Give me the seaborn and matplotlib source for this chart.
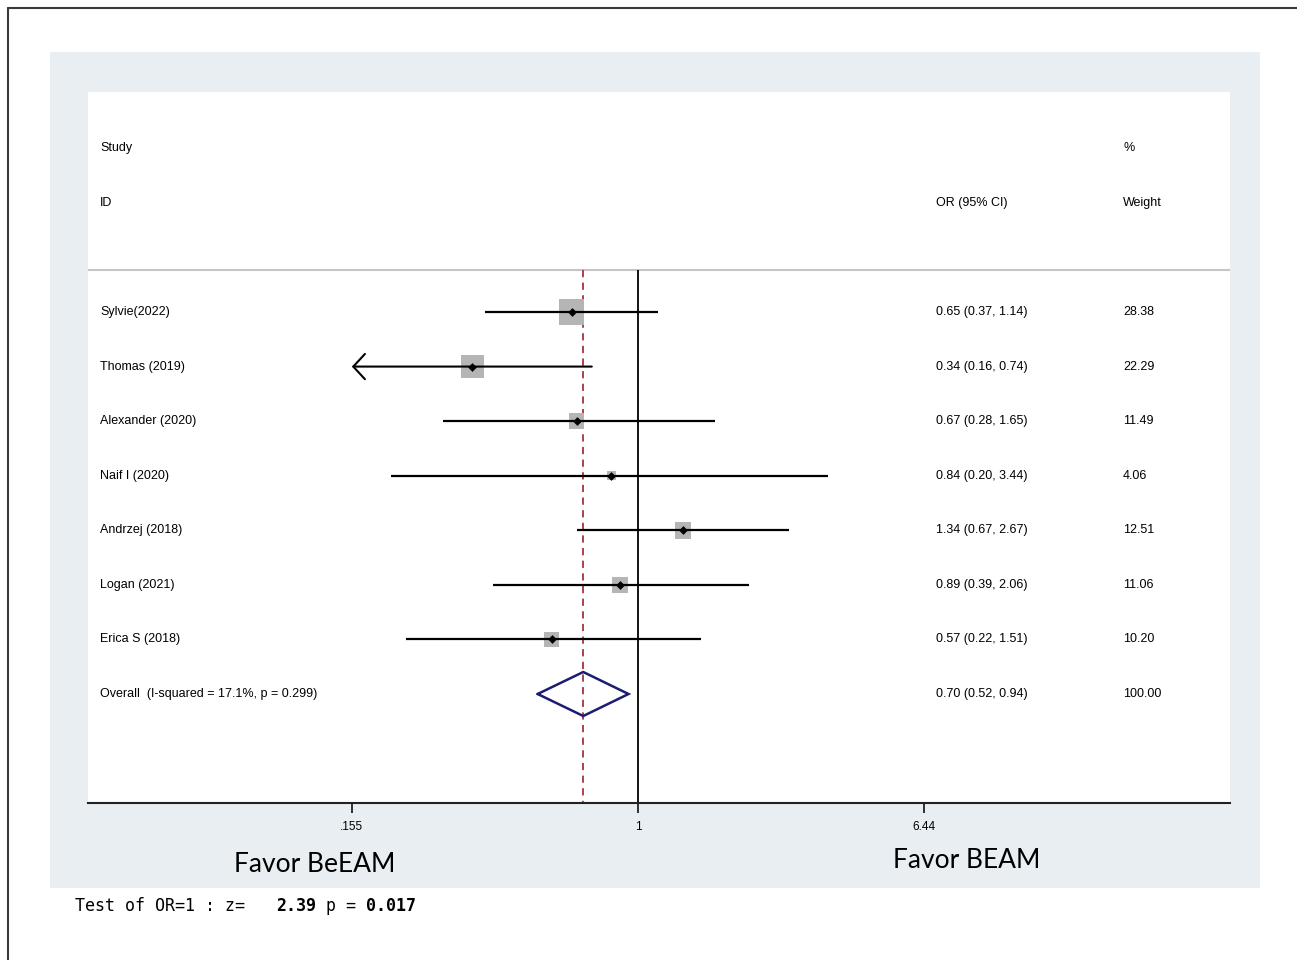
import numpy as np
import pandas as pd
import matplotlib
matplotlib.use("Agg")
import matplotlib.pyplot as plt
import seaborn as sns
from matplotlib.patches import Rectangle
from matplotlib.lines import Line2D
from matplotlib.ticker import NullLocator

# ---------------- data ----------------
studies = ["Sylvie(2022)", "Thomas (2019)", "Alexander (2020)", "Naif I (2020)",
           "Andrzej (2018)", "Logan (2021)", "Erica S (2018)"]
or_est = [0.65, 0.34, 0.67, 0.84, 1.34, 0.89, 0.57]
ci_lo = [0.37, 0.16, 0.28, 0.20, 0.67, 0.39, 0.22]
ci_hi = [1.14, 0.74, 1.65, 3.44, 2.67, 2.06, 1.51]
weights = [28.38, 22.29, 11.49, 4.06, 12.51, 11.06, 10.20]
overall_label = "Overall  (I-squared = 17.1%, p = 0.299)"
overall_est = 0.70
overall_lo = 0.52
overall_hi = 0.94
overall_weight = 100.00
tick_values = [0.155, 1, 6.44]
tick_labels = [".155", "1", "6.44"]
left_label = "Favor BeEAM"
right_label = "Favor BEAM"
test_z = "2.39"
test_p = "0.017"

# ---------------- figure ----------------
sns.set_theme(style="white")
plt.rcParams['font.family'] = ['Liberation Sans', 'DejaVu Sans']
plt.rcParams['text.color'] = 'black'
plt.rcParams['xtick.color'] = 'black'

W, H = 1297, 960
fig = plt.figure(figsize=(W / 100, H / 100), dpi=100)
fig.patch.set_facecolor("white")

def fx(px):
    return px / W

def fy(py):
    return 1 - py / H

# light blue-grey graph region
fig.patches.append(Rectangle((fx(50), fy(888)), (1260 - 50) / W, (888 - 52) / H,
                             transform=fig.transFigure, facecolor="#e8eef1",
                             edgecolor="none", zorder=-5))
# thin frame (top and left)
fig.lines.append(Line2D([fx(8), fx(1297)], [fy(8), fy(8)], transform=fig.transFigure,
                        color="#3a3a3a", lw=1.5, zorder=-5))
fig.lines.append(Line2D([fx(8), fx(8)], [fy(8), fy(960)], transform=fig.transFigure,
                        color="#3a3a3a", lw=1.5, zorder=-5))

ax = fig.add_axes([fx(88), fy(803), (1230 - 88) / W, (803 - 92) / H])
ax.set_facecolor("white")
ax.set_xscale("log")

ppl = 153.48  # pixels per ln unit
xmin = np.exp((88 - 638) / ppl)
xmax = np.exp((1230 - 638) / ppl)
ax.set_xlim(xmin, xmax)
row_h = (694 - 312) / 7
ax.set_ylim((803 - 312) / row_h, (92 - 312) / row_h)

n = len(studies)
rows = np.arange(n)
top_line = (270 - 312) / row_h

# separator and reference lines
ax.axhline(top_line, color="#c4c4c4", lw=1.5, zorder=1)
ax.vlines(1, top_line, (803 - 312) / row_h, color="black", lw=1.3, zorder=2)
ax.vlines(overall_est, top_line, (803 - 312) / row_h, color="#a3343f", lw=1.3,
          linestyles=(0, (4, 3)), zorder=2)

# squares via seaborn (area proportional to weight)
df = pd.DataFrame({"study": studies, "est": or_est, "lo": ci_lo, "hi": ci_hi,
                   "w": weights, "row": rows})
k = 11.42
sns.scatterplot(data=df, x="est", y="row", size="w",
                sizes=(k * min(weights), k * max(weights)),
                marker="s", color="#b5b5b5", linewidth=0, legend=False, ax=ax, zorder=3)

# CI lines
amin = tick_values[0]
for r, lo, hi in zip(rows, ci_lo, ci_hi):
    if lo < amin * 1.05 and r == 1:
        ax.annotate("", xy=(amin, r), xytext=(hi, r),
                    arrowprops=dict(arrowstyle="->,head_length=0.6,head_width=0.65",
                                    lw=1.5, color="black", shrinkA=0, shrinkB=0,
                                    mutation_scale=14), zorder=4)
    else:
        ax.hlines(r, lo, hi, color="black", lw=1.6, zorder=4)

sns.scatterplot(data=df, x="est", y="row", marker="D", color="black", s=20,
                linewidth=0, legend=False, ax=ax, zorder=5)

# overall diamond
orow = n
dh = 22 / row_h
ax.plot([overall_lo, overall_est, overall_hi, overall_est, overall_lo],
        [orow, orow - dh, orow, orow + dh, orow], color="#1c1c70", lw=1.8,
        zorder=5, solid_joinstyle="miter")

# text columns
fs = 9
tx_study = (100 - 88) / (1230 - 88)
tx_or = (936 - 88) / (1230 - 88)
tx_w = (1123 - 88) / (1230 - 88)
trans = ax.get_yaxis_transform()
ax.text(tx_study, -3, "Study", transform=trans, fontsize=fs, va="center", ha="left")
ax.text(tx_study, -2, "ID", transform=trans, fontsize=fs, va="center", ha="left")
ax.text(tx_or, -2, "OR (95% CI)", transform=trans, fontsize=fs, va="center", ha="left")
ax.text(tx_w, -3, "%", transform=trans, fontsize=fs, va="center", ha="left")
ax.text(tx_w, -2, "Weight", transform=trans, fontsize=fs, va="center", ha="left")
for r, s, e, lo, hi, w in zip(rows, studies, or_est, ci_lo, ci_hi, weights):
    ax.text(tx_study, r, s, transform=trans, fontsize=fs, va="center", ha="left")
    ax.text(tx_or, r, f"{e:.2f} ({lo:.2f}, {hi:.2f})", transform=trans, fontsize=fs,
            va="center", ha="left")
    ax.text(tx_w, r, f"{w:.2f}", transform=trans, fontsize=fs, va="center", ha="left")
ax.text(tx_study, orow, overall_label, transform=trans, fontsize=fs, va="center", ha="left")
ax.text(tx_or, orow, f"{overall_est:.2f} ({overall_lo:.2f}, {overall_hi:.2f})",
        transform=trans, fontsize=fs, va="center", ha="left")
ax.text(tx_w, orow, f"{overall_weight:.2f}", transform=trans, fontsize=fs,
        va="center", ha="left")

# axes styling
for side in ["top", "left", "right"]:
    ax.spines[side].set_visible(False)
ax.spines["bottom"].set_color("#222222")
ax.spines["bottom"].set_linewidth(1.5)
ax.set_xticks(tick_values)
ax.set_xticklabels(tick_labels, fontsize=8.5)
ax.xaxis.set_minor_locator(NullLocator())
ax.tick_params(axis="x", direction="out", length=7, width=1.3, color="#222222",
               labelcolor="black", pad=6, bottom=True)
ax.set_yticks([])
ax.set_xlabel("")
ax.set_ylabel("")

# favour labels
fig.text(fx(315), fy(864), left_label, fontsize=19, family=["Lato", "DejaVu Sans"],
         ha="center", va="center", color="black")
fig.text(fx(967), fy(860), right_label, fontsize=19, family=["Lato", "DejaVu Sans"],
         ha="center", va="center", color="black")

# test line in monospace, bold numbers
mfs = 12
cw = 0.602 * mfs * 100 / 72
pieces = [("Test of OR=1 : z=   ", "normal"), (test_z, "bold"), (" p = ", "normal"),
          (test_p, "bold")]
pos = 0
for txt, wgt in pieces:
    fig.text(fx(75 + pos * cw), fy(906), txt, fontsize=mfs, family="DejaVu Sans Mono",
             weight=wgt, ha="left", va="center", color="black")
    pos += len(txt)

fig.savefig("out.png", dpi=100)
